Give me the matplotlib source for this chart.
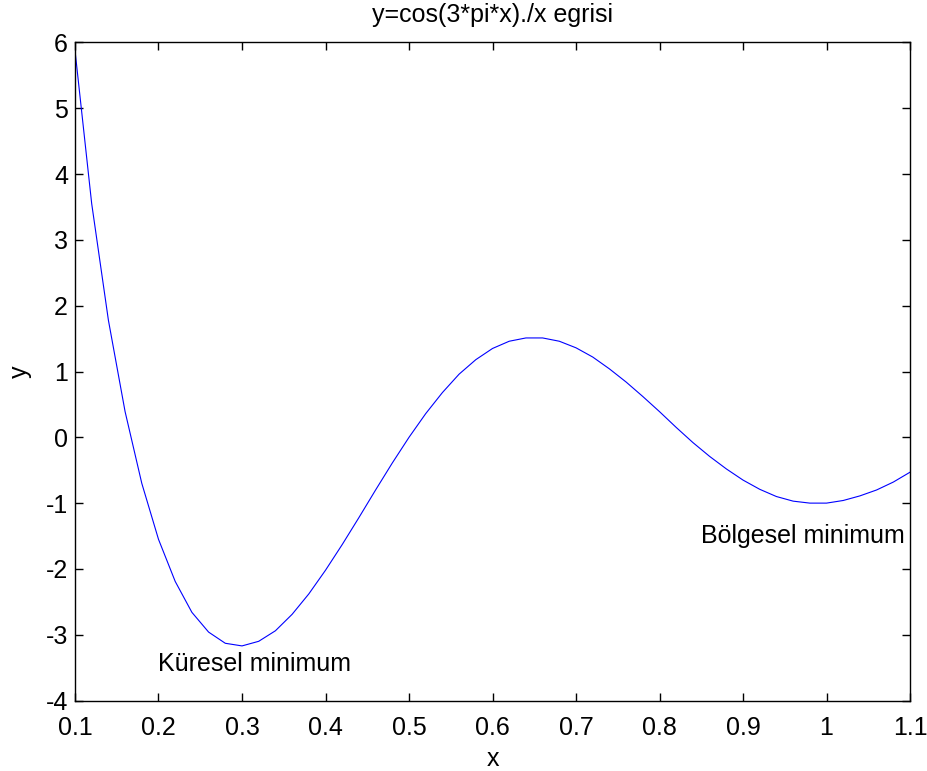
#!/usr/bin/env python3
"""Recreate the MATLAB-style plot of y = cos(3*pi*x)./x."""
import matplotlib

matplotlib.use("Agg")
import matplotlib.pyplot as plt

# values
x_vals = [0.10, 0.12, 0.14, 0.16, 0.18, 0.20, 0.22, 0.24, 0.26, 0.28,
          0.30, 0.32, 0.34, 0.36, 0.38, 0.40, 0.42, 0.44, 0.46, 0.48,
          0.50, 0.52, 0.54, 0.56, 0.58, 0.60, 0.62, 0.64, 0.66, 0.68,
          0.70, 0.72, 0.74, 0.76, 0.78, 0.80, 0.82, 0.84, 0.86, 0.88,
          0.90, 0.92, 0.94, 0.96, 0.98, 1.00, 1.02, 1.04, 1.06, 1.08, 1.10]
y_vals = [5.88, 3.55, 1.78, 0.39, -0.70, -1.55, -2.19, -2.66, -2.96, -3.13,
          -3.17, -3.10, -2.94, -2.69, -2.38, -2.02, -1.63, -1.22, -0.80, -0.39,
          0.00, 0.36, 0.68, 0.96, 1.18, 1.35, 1.46, 1.51, 1.51, 1.46,
          1.36, 1.22, 1.04, 0.84, 0.62, 0.39, 0.15, -0.08, -0.29, -0.48,
          -0.65, -0.79, -0.90, -0.97, -1.00, -1.00, -0.96, -0.89, -0.80, -0.68, -0.53]

x_ticks = [0.1, 0.2, 0.3, 0.4, 0.5, 0.6, 0.7, 0.8, 0.9, 1.0, 1.1]
x_ticklabels = ["0.1", "0.2", "0.3", "0.4", "0.5", "0.6", "0.7", "0.8", "0.9", "1", "1.1"]
y_ticks = [-4, -3, -2, -1, 0, 1, 2, 3, 4, 5, 6]

labels = [("Küresel minimum", 0.2, -3.45), ("Bölgesel minimum", 0.85, -1.5)]

plt.rcParams["font.family"] = ["Liberation Sans", "DejaVu Sans"]
plt.rcParams["axes.unicode_minus"] = False
FS = 18

fig = plt.figure(figsize=(9.27, 7.71), dpi=100)
ax = fig.add_axes([0.0809, 0.0914, 0.9008, 0.8535])
ax.plot(x_vals, y_vals, color="#0000ff", linewidth=0.8)

ax.set_xlim(0.1, 1.1)
ax.set_ylim(-4, 6)
ax.set_xticks(x_ticks)
ax.set_xticklabels(x_ticklabels)
ax.set_yticks(y_ticks)
ax.tick_params(direction="in", length=6, width=1, top=True, right=True,
               labelsize=FS)
ax.tick_params(axis="x", pad=11)
ax.tick_params(axis="y", pad=5)
for s in ax.spines.values():
    s.set_linewidth(1.0)

for txt, tx, ty in labels:
    ax.text(tx, ty, txt, fontsize=FS, va="center", ha="left")

ax.set_title("y=cos(3*pi*x)./x egrisi", fontsize=FS, pad=15)
ax.set_xlabel("x", fontsize=FS, labelpad=5)
ax.set_ylabel("y", fontsize=FS, labelpad=10)

fig.savefig("out.png", dpi=100)
